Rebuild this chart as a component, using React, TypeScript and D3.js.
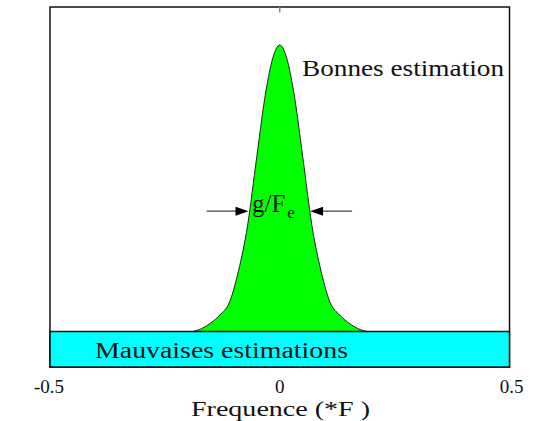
import React, { useEffect, useRef } from 'react';
import * as d3 from 'd3';

// spectrum (normalised amplitude vs frequence)
const freqs = [-0.19, -0.17, -0.15, -0.13, -0.11, -0.09, -0.07, -0.05, -0.03, -0.015, 0, 0.015, 0.03, 0.05, 0.07, 0.09, 0.11, 0.13, 0.15, 0.17, 0.19];
const amps = [0, 0.01, 0.03, 0.058, 0.1, 0.21, 0.37, 0.61, 0.84, 0.955, 1, 0.955, 0.84, 0.61, 0.37, 0.21, 0.1, 0.058, 0.03, 0.01, 0];
const xTicks = [-0.5, 0, 0.5];
const xTickLabels = ['-0.5', '0', '0.5'];
const widthMark = [-0.068, 0.066]; // g/Fe arrows tips
const widthMarkLevel = 0.42;

const W = 536;
const H = 421;
const FONT = '"Liberation Serif", "Times New Roman", serif';

const App: React.FC = () => {
  const ref = useRef<SVGSVGElement | null>(null);

  useEffect(() => {
    if (!ref.current) return;
    const svg = d3.select(ref.current);
    svg.selectAll('*').remove();

    const margin = { top: 7, right: 26.5, bottom: 54, left: 50 };
    const bandH = 35.5;
    const x = d3.scaleLinear().domain([-0.5, 0.5]).range([margin.left, W - margin.right]);
    const baseY = H - margin.bottom - bandH;
    const y = d3.scaleLinear().domain([0, 1]).range([baseY, 45]);

    // frame
    svg.append('rect')
      .attr('x', x(-0.5)).attr('y', margin.top)
      .attr('width', x(0.5) - x(-0.5)).attr('height', H - margin.bottom - margin.top)
      .attr('fill', '#fff').attr('stroke', '#111').attr('stroke-width', 1.5);

    // top tick
    svg.append('line')
      .attr('x1', x(0)).attr('x2', x(0))
      .attr('y1', margin.top).attr('y2', margin.top + 5.5)
      .attr('stroke', '#888').attr('stroke-width', 1.5);

    // spectrum
    const pts: [number, number][] = freqs.map((f, i) => [f, amps[i]]);
    const area = d3.area<[number, number]>()
      .x(d => x(d[0]))
      .y0(y(0))
      .y1(d => y(d[1]))
      .curve(d3.curveMonotoneX);
    svg.append('path')
      .datum(pts)
      .attr('d', area)
      .attr('fill', '#00ff00')
      .attr('stroke', '#222')
      .attr('stroke-width', 1);

    // bad estimations band
    svg.append('rect')
      .attr('x', x(-0.5)).attr('y', baseY)
      .attr('width', x(0.5) - x(-0.5)).attr('height', bandH)
      .attr('fill', '#00ffff').attr('stroke', '#111').attr('stroke-width', 1.5);

    // width arrows
    const ay = y(widthMarkLevel);
    const head = (tip: number, dir: number) => {
      svg.append('line')
        .attr('x1', tip - dir * 42).attr('x2', tip - dir * 10)
        .attr('y1', ay).attr('y2', ay)
        .attr('stroke', '#444').attr('stroke-width', 1.2);
      svg.append('path')
        .attr('d', `M${tip},${ay}L${tip - dir * 13},${ay - 4.5}L${tip - dir * 13},${ay + 4.5}Z`)
        .attr('fill', '#000');
    };
    head(x(widthMark[0]), 1);
    head(x(widthMark[1]), -1);

    const g = svg.append('text')
      .attr('x', 252).attr('y', 211.5)
      .attr('font-family', FONT).attr('font-size', 25).attr('fill', '#111');
    g.append('tspan').text('g/F');
    g.append('tspan').attr('font-size', 17).attr('dy', 6.5).attr('dx', 2).text('e');

    svg.append('text')
      .attr('x', 302).attr('y', 76)
      .attr('font-family', FONT).attr('font-size', 24).attr('fill', '#111')
      .attr('textLength', 202).attr('lengthAdjust', 'spacingAndGlyphs')
      .text('Bonnes estimation');

    svg.append('text')
      .attr('x', 95).attr('y', 357.5)
      .attr('font-family', FONT).attr('font-size', 23).attr('fill', '#111')
      .attr('textLength', 253).attr('lengthAdjust', 'spacingAndGlyphs')
      .text('Mauvaises estimations');

    // x tick labels
    svg.selectAll('.tick-label')
      .data(xTicks)
      .enter()
      .append('text')
      .attr('class', 'tick-label')
      .attr('x', d => (d === 0 ? x(d) : x(d) + 14))
      .attr('y', 393)
      .attr('text-anchor', d => (d === 0 ? 'middle' : 'end'))
      .attr('font-family', FONT).attr('font-size', 19).attr('fill', '#111')
      .text((d, i) => xTickLabels[i]);

    svg.append('text')
      .attr('x', 191).attr('y', 416)
      .attr('font-family', FONT).attr('font-size', 20).attr('fill', '#111')
      .attr('textLength', 179).attr('lengthAdjust', 'spacingAndGlyphs')
      .text('Frequence (*F )');
  }, []);

  return (
    <svg
      ref={ref}
      width={W}
      height={H}
      style={{ position: 'absolute', left: 0, top: 0, background: '#fff' }}
    />
  );
};

export default App;
